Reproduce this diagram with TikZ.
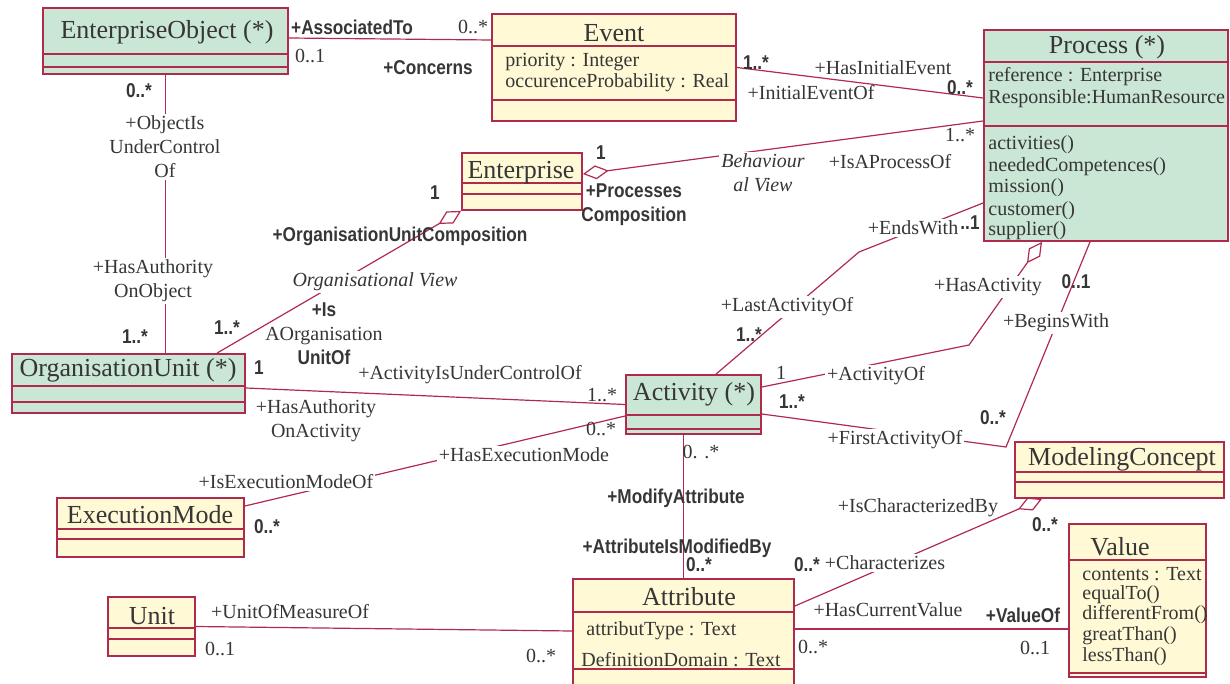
\documentclass[tikz,border=0pt]{standalone}
\usepackage{fontspec}
\setmainfont{Liberation Serif}
\newfontfamily\condsans[FakeStretch=0.86]{Liberation Sans}
\usetikzlibrary{arrows.meta, fit}
\definecolor{umlline}{HTML}{B02A4E}
\definecolor{umlgreen}{HTML}{CAE6D4}
\definecolor{umlyellow}{HTML}{FFF9D6}
\definecolor{umltext}{HTML}{363636}

\begin{document}
\begin{tikzpicture}[
    x=0.5pt, y=-0.5pt,
    gclass/.style={rectangle, draw=umlline, fill=umlgreen, line width=0.9pt, inner sep=0pt},
    yclass/.style={rectangle, draw=umlline, fill=umlyellow, line width=0.9pt, inner sep=0pt},
    ctitle/.style={text=umltext, inner sep=0pt, font=\fontsize{13}{15}\selectfont},
    cattr/.style={text=umltext, inner sep=0pt, anchor=west, font=\fontsize{10}{12}\selectfont},
    lbl/.style={text=umltext, inner sep=1pt, align=center, font=\fontsize{10}{12}\selectfont},
    blbl/.style={text=umltext, inner sep=1pt, align=center, font=\condsans\bfseries\fontsize{10}{12}\selectfont},
    ilbl/.style={lbl, font=\itshape\fontsize{10}{12}\selectfont},
    cut/.style={fill=white},
    assoc/.style={draw=umlline, line width=0.6pt},
    agg/.style={assoc, {Diamond[open, length=13pt, width=7pt]}-},
    sepline/.style={draw=umlline, line width=0.6pt}
]
    \useasboundingbox (0,0) rectangle (1230,684);

    \node[gclass, fit={(43,8) (288,74)}] (eobj) {};
    \node[yclass, fit={(492,14) (736,121)}] (event) {};
    \node[gclass, fit={(984,30) (1228,241)}] (process) {};
    \node[yclass, fit={(462,153) (582,210)}] (enterprise) {};
    \node[gclass, fit={(12,354) (245,413)}] (orgunit) {};
    \node[gclass, fit={(626,375) (761,434)}] (activity) {};
    \node[yclass, fit={(57,498) (244,557)}] (execmode) {};
    \node[yclass, fit={(1015,442) (1224,498)}] (modconcept) {};
    \node[yclass, fit={(108,597) (195,656)}] (unit) {};
    \node[yclass, fit={(573,579) (794,700)}] (attribute) {};
    \node[yclass, fit={(1069,524) (1206,677)}] (value) {};

    \foreach \n/\yy in {eobj/54, eobj/67, event/46, event/100, process/62, process/126,
        enterprise/183, enterprise/194, orgunit/386, orgunit/402, activity/415, activity/429,
        execmode/529, execmode/539, modconcept/472, modconcept/482, unit/628, unit/639,
        attribute/612, attribute/669, value/560, value/673}
        \draw[sepline] (\n.west |- 0,\yy) -- (\n.east |- 0,\yy);

    \node[ctitle] (eobj-t) at (167,32) {EnterpriseObject (*)};
    \node[ctitle] (event-t) at (614,33) {Event};
    \node[ctitle] (process-t) at (1107,47) {Process (*)};
    \node[ctitle] (enterprise-t) at (521,173) {Enterprise};
    \node[ctitle] (orgunit-t) at (128,370) {OrganisationUnit (*)};
    \node[ctitle] (activity-t) at (694,394) {Activity (*)};
    \node[ctitle] (execmode-t) at (150,515) {ExecutionMode};
    \node[ctitle] (modconcept-t) at (1122,459) {ModelingConcept};
    \node[ctitle] (unit-t) at (152,616) {Unit};
    \node[ctitle] (attribute-t) at (689,597) {Attribute};
    \node[ctitle] (value-t) at (1120,547) {Value};

    \node[cattr] (event-a1) at (505,62) {priority : Integer};
    \node[cattr] (event-a2) at (505,83) {occurenceProbability : Real};
    \node[cattr] (process-a1) at (988,77) {reference : Enterprise};
    \node[cattr] (process-a2) at (988,99) {Responsible:HumanResource};
    \node[cattr] (process-o1) at (988,145) {activities()};
    \node[cattr] (process-o2) at (988,167) {neededCompetences()};
    \node[cattr] (process-o3) at (988,188) {mission()};
    \node[cattr] (process-o4) at (988,211) {customer()};
    \node[cattr] (process-o5) at (988,231) {supplier()};
    \node[cattr] (attribute-a1) at (586,631) {attributType : Text};
    \node[cattr] (attribute-a2) at (581,660) {DefinitionDomain : Text};
    \node[cattr] (value-a1) at (1082,574) {contents : Text};
    \node[cattr] (value-o1) at (1082,595) {equalTo()};
    \node[cattr] (value-o2) at (1082,615) {differentFrom()};
    \node[cattr] (value-o3) at (1082,636) {greatThan()};
    \node[cattr] (value-o4) at (1082,657) {lessThan()};

    \coordinate (ends-bend) at (859,252);
    \coordinate (hasact-bend) at (969,345);
    \coordinate (begins-bend) at (1006,447);
    \coordinate (curval-end) at ([yshift=5.25pt]attribute.east);

    \draw[assoc] ([yshift=1.5pt]eobj.east) -- ([yshift=13.75pt]event.west);
    \draw[assoc] (event.east) -- ([yshift=18.75pt]process.west);
    \draw[agg] ([yshift=3.75pt]enterprise.east) -- ([yshift=7.25pt]process.west);
    \draw[agg] (enterprise.south west) -- ([xshift=44.25pt]orgunit.north);
    \draw[assoc] (eobj.south) -- (eobj.south |- orgunit.north);
    \draw[assoc] ([yshift=-2.25pt]orgunit.east) -- (activity.west);
    \draw[assoc] ([yshift=10.75pt]execmode.east) -- ([yshift=-5.75pt]activity.west);
    \draw[assoc] ([xshift=11.25pt]activity.north) -- (ends-bend) -- ([yshift=-33.75pt]process.west);
    \draw[agg] ([xshift=-32pt]process.south) -- (hasact-bend) -- ([yshift=8.75pt]activity.east);
    \draw[assoc] ([yshift=-4.75pt]activity.east) -- (begins-bend) -- ([xshift=-8pt]process.south);
    \draw[assoc] (attribute.north |- activity.south) -- (attribute.north);
    \draw[agg] ([xshift=-38.75pt]modconcept.south) -- ([yshift=16.75pt]attribute.east);
    \draw[assoc] (curval-end) -- (curval-end -| value.west);
    \draw[assoc] (unit.east) -- ([yshift=4.25pt]attribute.west);

    \node[blbl] (l-assoc) at (352,27) {+AssociatedTo};
    \node[lbl] (m-ev1) at (473,27) {0..*};
    \node[lbl] (m-eo1) at (310,56) {0..1};
    \node[blbl] (l-concerns) at (428,68) {+Concerns};
    \node[blbl] (m-ev2) at (756,63) {1..*};
    \node[lbl] (l-hasinit) at (883,68) {+HasInitialEvent};
    \node[lbl] (l-initof) at (811,93) {+InitialEventOf};
    \node[blbl] (m-pr1) at (960,88) {0..*};
    \node[blbl] (m-en1) at (601,153) {1};
    \node[blbl] (l-proccomp) at (634,205) {+Processes\\Composition};
    \node[ilbl, cut] (v-behav) at (763,173) {Behaviour\\al View};
    \node[lbl, cut] (l-isproc) at (890,162) {+IsAProcessOf};
    \node[lbl] (m-pr2) at (960,135) {1..*};
    \node[blbl] (m-en2) at (435,193) {1};
    \node[blbl] (l-oucomp) at (400,236) {+OrganisationUnitComposition};
    \node[ilbl, cut] (v-org) at (375,282) {Organisational View};
    \node[lbl] (l-isaorg) at (324,334) {{\condsans\bfseries +Is}\\AOrganisation\\{\condsans\bfseries UnitOf}};
    \node[blbl] (m-ou1) at (227,328) {1..*};
    \node[blbl] (m-eo2) at (139,91) {0..*};
    \node[lbl, cut] (l-objctrl) at (165,147) {+ObjectIs\\UnderControl\\Of};
    \node[lbl, cut] (l-authobj) at (153,281) {+HasAuthority\\OnObject};
    \node[blbl] (m-ou2) at (135,337) {1..*};
    \node[blbl] (m-ou3) at (259,368) {1};
    \node[lbl] (l-actctrl) at (470,375) {+ActivityIsUnderControlOf};
    \node[lbl] (m-ac1) at (602,395) {1..*};
    \node[lbl] (l-authact) at (316,421) {+HasAuthority\\OnActivity};
    \node[lbl] (m-ac2) at (601,429) {0..*};
    \node[lbl, cut] (l-hasexec) at (524,455) {+HasExecutionMode};
    \node[lbl, cut] (l-isexec) at (286,482) {+IsExecutionModeOf};
    \node[blbl] (m-ex1) at (267,527) {0..*};
    \node[lbl, cut] (l-lastact) at (787,307) {+LastActivityOf};
    \node[blbl] (m-ac3) at (749,335) {1..*};
    \node[lbl, cut] (l-endswith) at (913,228) {+EndsWith};
    \node[blbl] (m-pr3) at (970,223) {..1};
    \node[lbl, cut] (l-hasact) at (988,287) {+HasActivity};
    \node[blbl] (m-pr4) at (1076,282) {0..1};
    \node[lbl, cut] (l-begins) at (1056,323) {+BeginsWith};
    \node[lbl] (m-ac4) at (781,373) {1};
    \node[lbl, cut] (l-actof) at (876,376) {+ActivityOf};
    \node[blbl] (m-ac5) at (792,402) {1..*};
    \node[blbl] (m-mc1) at (993,418) {0..*};
    \node[lbl, cut] (l-firstact) at (895,440) {+FirstActivityOf};
    \node[lbl] (m-ac6) at (701,452) {0. .*};
    \node[blbl] (l-modattr) at (676,498) {+ModifyAttribute};
    \node[blbl] (l-attrmod) at (677,548) {+AttributeIsModifiedBy};
    \node[blbl] (m-at1) at (699,565) {0..*};
    \node[lbl] (l-ischar) at (918,508) {+IsCharacterizedBy};
    \node[blbl] (m-mc2) at (1045,525) {0..*};
    \node[blbl] (m-at2) at (807,565) {0..*};
    \node[lbl, cut] (l-charac) at (885,563) {+Characterizes};
    \node[lbl] (l-curval) at (888,610) {+HasCurrentValue};
    \node[blbl] (l-valof) at (1023,615) {+ValueOf};
    \node[lbl] (m-at3) at (813,647) {0..*};
    \node[lbl] (m-va1) at (1035,648) {0..1};
    \node[lbl] (l-unitof) at (290,612) {+UnitOfMeasureOf};
    \node[lbl] (m-un1) at (220,649) {0..1};
    \node[lbl] (m-at4) at (541,656) {0..*};
\end{tikzpicture}
\end{document}
